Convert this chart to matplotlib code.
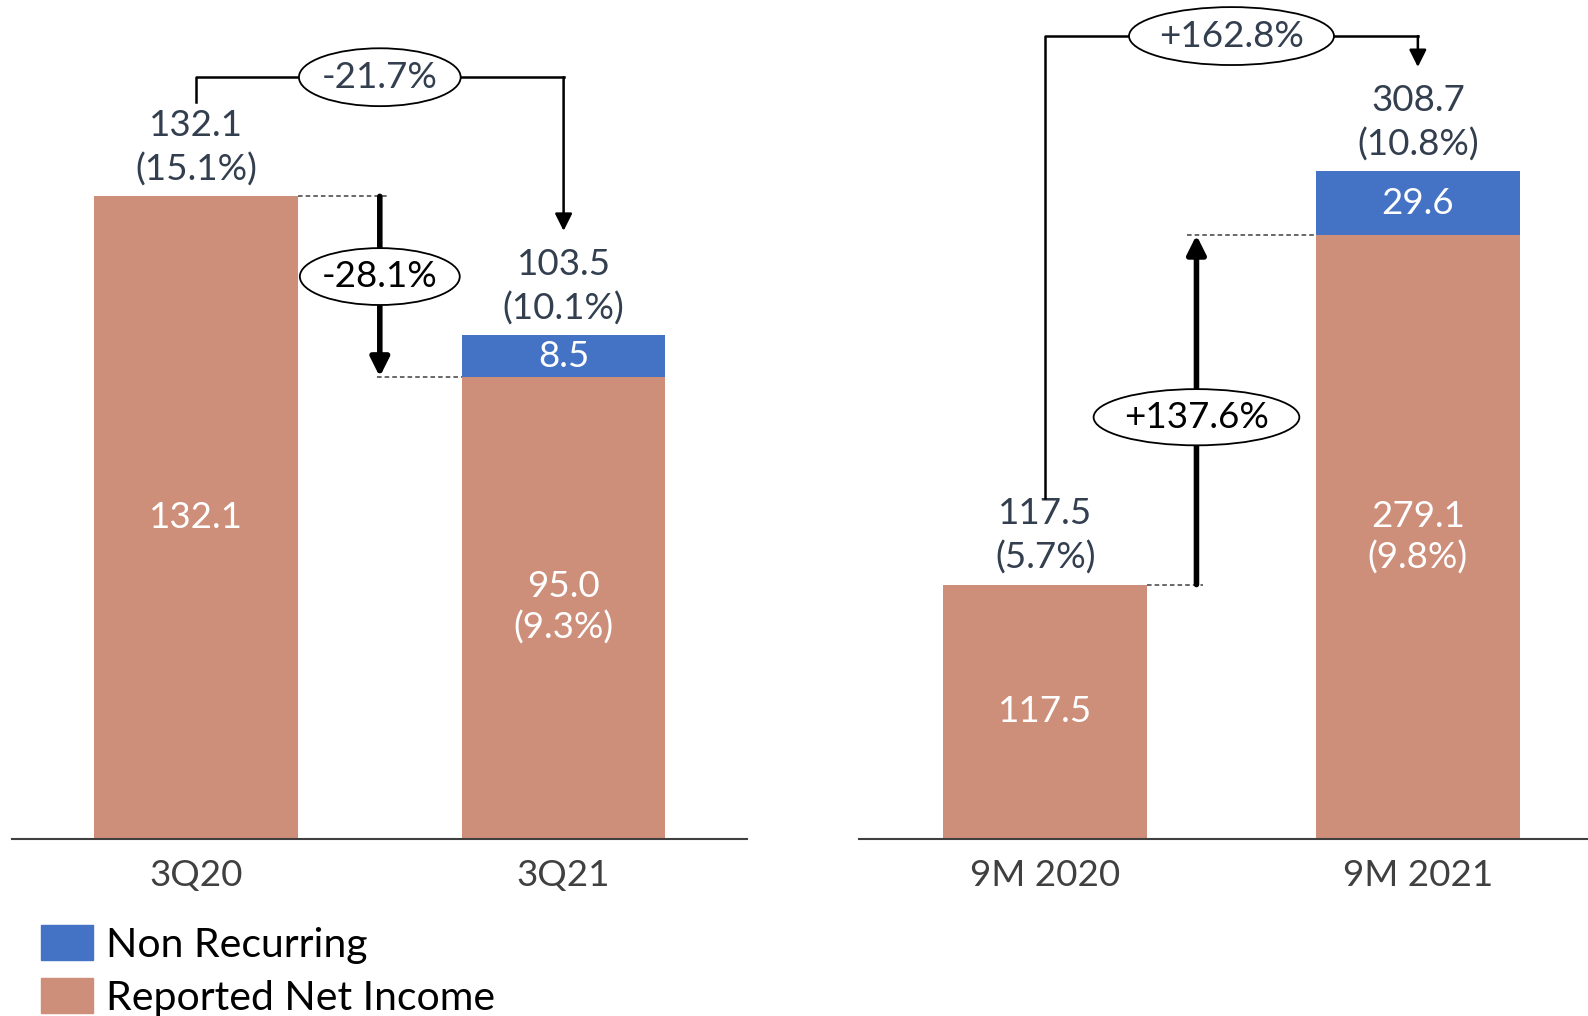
import matplotlib.pyplot as plt
from matplotlib.patches import Ellipse, Patch

plt.rcParams['font.family'] = ['Lato', 'DejaVu Sans']

# data
quarters = ['3Q20', '3Q21']
quarter_reported = [132.1, 95.0]
quarter_nonrec = [0.0, 8.5]
quarter_margin_total = ['15.1%', '10.1%']
quarter_margin_reported = [None, '9.3%']
quarter_change_total = '-21.7%'
quarter_change_reported = '-28.1%'

periods = ['9M 2020', '9M 2021']
period_reported = [117.5, 279.1]
period_nonrec = [0.0, 29.6]
period_margin_total = ['5.7%', '10.8%']
period_margin_reported = [None, '9.8%']
period_change_total = '+162.8%'
period_change_reported = '+137.6%'

ORANGE = '#CD8E7A'
BLUE = '#4472C4'
TXT = '#333F4F'
FS = 26.5
LS = 1.38
W, H = 1588, 1016
BASE = 838.6  # baseline, px from top


def draw_panel(ax, cats, reported, nonrec, m_total, m_rep, chg_total, chg_rep, lay):
    x = [0, 1]
    bw = lay['bw']
    ax.bar(x, reported, bw, color=ORANGE, label='Reported Net Income', zorder=2)
    ax.bar(x, nonrec, bw, bottom=reported, color=BLUE, label='Non Recurring', zorder=2)
    totals = [r + n for r, n in zip(reported, nonrec)]

    for i in x:
        # label inside reported part
        txt = f'{reported[i]:.1f}'
        if m_rep[i]:
            txt += f'\n({m_rep[i]})'
        ax.text(i, reported[i] / 2, txt, ha='center', va='center', color='white', fontsize=FS,
                linespacing=1.27, zorder=5)
        if nonrec[i] > 0:
            ax.text(i, reported[i] + nonrec[i] / 2, f'{nonrec[i]:.1f}', ha='center', va='center',
                    color='white', fontsize=FS, zorder=5)
        # total label on top
        ax.annotate(f'{totals[i]:.1f}\n({m_total[i]})', xy=(i, totals[i]), xytext=(0, 35),
                    textcoords='offset points', ha='center', va='center', color=TXT, fontsize=FS,
                    linespacing=LS)

    # top bracket with arrow
    by = lay['bracket_y']
    ax.plot([0, 0, 1], [lay['stub'], by, by], color='black', lw=1.8, clip_on=False, zorder=3)
    ax.annotate('', xy=(1, lay['tip']), xytext=(1, by),
                arrowprops=dict(arrowstyle='-|>', lw=1.8, color='black', mutation_scale=26,
                                shrinkA=0, shrinkB=0), annotation_clip=False)
    ex, ew, eh = lay['top_ell']
    ax.add_patch(Ellipse((ex, by), ew, eh, facecolor='white', edgecolor='black', lw=1.3,
                         zorder=4, clip_on=False))
    ax.text(ex, by, chg_total, ha='center', va='center', fontsize=FS, color=TXT, zorder=5)

    # dashed guides
    for (x0, x1), yv in zip(lay['dash'], [reported[0], reported[1]]):
        ax.plot([x0, x1], [yv, yv], color='#404040', lw=1.1, ls=(0, (3, 2)), zorder=3)

    # thick arrow between reported values
    tx = lay['thick_x']
    ax.annotate('', xy=(tx, reported[1]), xytext=(tx, reported[0]),
                arrowprops=dict(arrowstyle='-|>', lw=4, color='black', mutation_scale=28,
                                shrinkA=0, shrinkB=0))
    mx, my, mw, mh = lay['mid_ell']
    ax.add_patch(Ellipse((mx, my), mw, mh, facecolor='white', edgecolor='black', lw=1.3, zorder=4))
    ax.text(mx, my, chg_rep, ha='center', va='center', fontsize=FS, color='black', zorder=5)

    ax.set_xticks(x)
    ax.set_xticklabels(cats, fontsize=FS, color='#404040')
    ax.tick_params(axis='x', length=0, pad=15)
    ax.set_yticks([])
    for s in ['top', 'left', 'right']:
        ax.spines[s].set_visible(False)
    ax.spines['bottom'].set_color('#404040')
    ax.spines['bottom'].set_linewidth(1.5)
    ax.set_xlim(-0.5, 1.5)


fig = plt.figure(figsize=(W / 100, H / 100), dpi=100)

ax1 = fig.add_axes([12.2 / W, (H - BASE) / H, 735.2 / W, BASE / H])
ax1.set_ylim(0, BASE / 4.862)
draw_panel(ax1, quarters, quarter_reported, quarter_nonrec, quarter_margin_total,
           quarter_margin_reported, quarter_change_total, quarter_change_reported,
           dict(bw=0.554, bracket_y=156.6, stub=151.6, tip=125.0, top_ell=(0.5, 0.44, 11.9),
                dash=[(0.277, 0.522), (0.492, 0.723)], thick_x=0.5,
                mid_ell=(0.5, 115.6, 0.435, 11.7)))

ax2 = fig.add_axes([858.8 / W, (H - BASE) / H, 745.4 / W, BASE / H])
ax2.set_ylim(0, BASE / 2.162)
draw_panel(ax2, periods, period_reported, period_nonrec, period_margin_total,
           period_margin_reported, period_change_total, period_change_reported,
           dict(bw=0.549, bracket_y=371.2, stub=157.5, tip=356.9, top_ell=(0.5, 0.55, 26.8),
                dash=[(0.2745, 0.424), (0.380, 0.7255)], thick_x=0.406,
                mid_ell=(0.406, 194.9, 0.552, 26.0)))

handles = [Patch(color=BLUE, label='Non Recurring'), Patch(color=ORANGE, label='Reported Net Income')]
fig.legend(handles=handles, loc='upper left', bbox_to_anchor=(40.5 / W, 1 - 925 / H), frameon=False,
           fontsize=29.5, handlelength=1.29, handleheight=0.94, handletextpad=0.3,
           labelspacing=0.36, borderpad=0, borderaxespad=0)

fig.savefig('out.png', dpi=100)
